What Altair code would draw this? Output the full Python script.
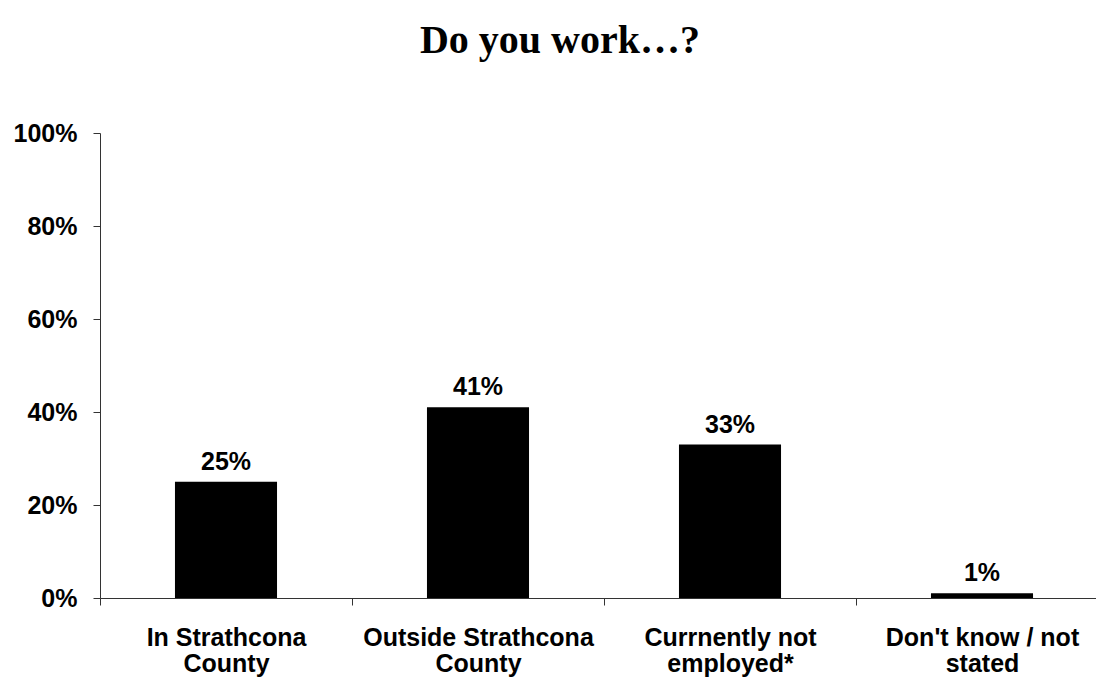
import altair as alt
import pandas as pd

categories = ["In Strathcona|County", "Outside Strathcona|County", "Currnently not|employed*", "Don't know / not|stated"]
values = [0.25, 0.41, 0.33, 0.01]
labels = ["25%", "41%", "33%", "1%"]

df = pd.DataFrame({"cat": categories, "val": values, "lab": labels})

x = alt.X("cat:N", sort=categories, title=None,
          scale=alt.Scale(range=[0, 1008], paddingInner=0, paddingOuter=0),
          axis=alt.Axis(labelExpr="isValid(datum.value) ? split(datum.value, '|') : ''", labelAngle=0,
                        labelFont="Liberation Sans", labelFontWeight="bold", labelFontSize=25,
                        labelColor="black", labelLineHeight=26, labelPadding=20, labelLimit=0,
                        tickBand="extent", tickSize=7, tickColor="#333", domainColor="#333",
                        labelBaseline="top"))

y = alt.Y("val:Q", title=None,
          scale=alt.Scale(domain=[0, 1], nice=False),
          axis=alt.Axis(values=[0, 0.2, 0.4, 0.6, 0.8, 1.0], format=".0%", grid=False,
                        labelFont="Liberation Sans", labelFontWeight="bold", labelFontSize=25,
                        labelColor="black", labelPadding=16, tickSize=7,
                        tickColor="#333", domainColor="#333"))

bars = alt.Chart(df).mark_bar(color="black", width=alt.RelativeBandSize(0.405)).encode(x=x, y=y)
text = alt.Chart(df).mark_text(font="Liberation Sans", fontWeight="bold", fontSize=25,
                               baseline="alphabetic", dy=-12, color="black").encode(x=x, y=y, text="lab:N")

chart = (bars + text).properties(
    width=996, height=465,
    autosize=alt.AutoSizeParams(type="none"),
    padding={"left": 92, "top": 125, "right": 0, "bottom": 80},
    title=alt.TitleParams("Do you work…?", font="Liberation Serif", fontWeight="bold",
                          fontSize=40, color="black", offset=60, dx=-38, anchor="middle"),
).configure_view(stroke=None)

chart.save("out.html", embed_options={"renderer": "svg", "actions": False})
